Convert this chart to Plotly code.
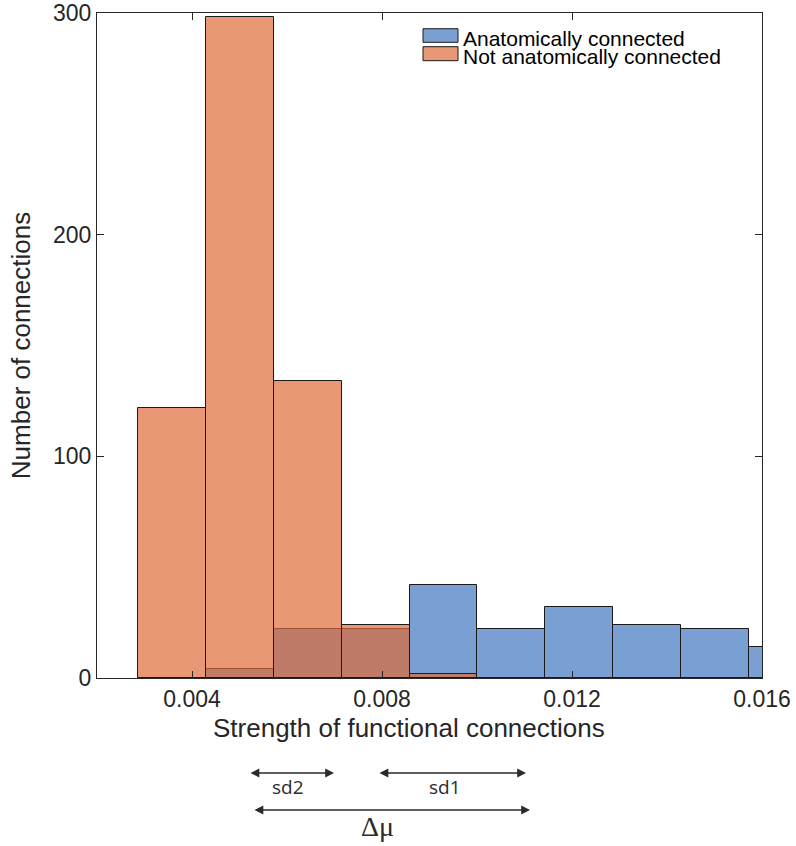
import numpy as np
import plotly.graph_objects as go

# ---- data ----
bin_edges = [0.00286, 0.00429, 0.00572, 0.00715, 0.00858, 0.01001,
             0.01144, 0.01287, 0.01430, 0.01573, 0.01716]
anat_counts = [0, 4, 22, 22, 42, 22, 32, 24, 22, 14]          # Anatomically connected
not_anat_counts = [122, 298, 134, 24, 2, 0, 0, 0, 0, 0]         # Not anatomically connected
series_names = ["Anatomically connected", "Not anatomically connected"]
x_ticks = [0.004, 0.008, 0.012, 0.016]
x_tick_labels = ["0.004", "0.008", "0.012", "0.016"]
y_ticks = [0, 100, 200, 300]
y_tick_labels = ["0", "100", "200", "300"]
x_title = "Strength of functional connections"
y_title = "Number of connections"

# ---- styles ----
fill_colors = ["rgba(65,118,192,0.7)", "rgba(222,108,58,0.7)"]
edge_color = "#1a1a1a"
axis_color = "#262626"
font_family = "Liberation Sans, Arial, Helvetica, sans-serif"

edges = np.array(bin_edges)
centers = (edges[:-1] + edges[1:]) / 2
widths = np.diff(edges)

fig = go.Figure()
for name, counts, col in zip(series_names, [anat_counts, not_anat_counts], fill_colors):
    fig.add_trace(go.Bar(
        x=centers, y=counts, width=widths, name=name,
        marker=dict(color=col, line=dict(color=edge_color, width=1)),
        showlegend=False,
    ))

W, H = 796, 846
ml, mr, mt, mb = 97, 34, 13, 168
pw, ph = W - ml - mr, H - mt - mb


def px(xp):
    return (xp - ml) / pw


def py(yp):
    return (H - mb - yp) / ph


shapes = []
annotations = []

# custom compact legend
leg_rows = [(28.7, 42.3, 38.5), (46.7, 60.7, 56.5)]
for (top, bot, tc), name, col in zip(leg_rows, series_names, fill_colors):
    shapes.append(dict(type="rect", xref="paper", yref="paper",
                       x0=px(423), x1=px(458), y0=py(bot), y1=py(top),
                       fillcolor=col, line=dict(color=edge_color, width=1)))
    annotations.append(dict(xref="paper", yref="paper", x=px(462), y=py(tc),
                            xanchor="left", yanchor="middle", showarrow=False,
                            borderpad=0,
                            text=name, font=dict(family=font_family, size=21, color="#000000")))

# x-axis title (slightly left of the axis centre, as in the reference)
annotations.append(dict(xref="paper", yref="paper", x=px(409), y=py(728),
                        xanchor="center", yanchor="middle", showarrow=False,
                        text=x_title, font=dict(family=font_family, size=26, color=axis_color)))

# sd / delta-mu double arrows below the axis
arrow_specs = [(249, 334, 773), (378, 526, 773), (253, 530, 810)]
for x0, x1, yy in arrow_specs:
    annotations.append(dict(xref="paper", yref="paper", x=px(x1), y=py(yy),
                            ax=x0 - x1, ay=0, text="", showarrow=True,
                            arrowhead=2, startarrowhead=2, arrowside="end+start",
                            arrowsize=1.1, startarrowsize=1.1, arrowwidth=1.6,
                            arrowcolor="#2b2b2b", standoff=0, startstandoff=0,
                            font=dict(size=1)))
label_specs = [("sd2", 288, 787, "Open Sans, DejaVu Sans, sans-serif", 19),
               ("sd1", 445, 787, "Open Sans, DejaVu Sans, sans-serif", 19),
               ("\u0394\u03bc", 377, 826, "Liberation Serif, Times New Roman, serif", 28)]
for txt, xx, yy, fam, sz in label_specs:
    annotations.append(dict(xref="paper", yref="paper", x=px(xx), y=py(yy),
                            xanchor="center", yanchor="middle", showarrow=False,
                            text=txt, font=dict(family=fam, size=sz, color="#2b2b2b")))

axis_common = dict(showline=True, linecolor=axis_color, linewidth=1.3, mirror="ticks",
                   ticks="inside", ticklen=7, tickwidth=1.3, tickcolor=axis_color,
                   showgrid=False, zeroline=False, automargin=False,
                   tickfont=dict(family=font_family, size=23, color=axis_color))

fig.update_layout(
    width=W, height=H,
    margin=dict(l=ml, r=mr, t=mt, b=mb, autoexpand=False),
    paper_bgcolor="white", plot_bgcolor="white",
    barmode="overlay", bargap=0,
    xaxis=dict(range=[0.002, 0.016], tickvals=x_ticks, ticktext=x_tick_labels,
               **axis_common),
    yaxis=dict(range=[0, 300], tickvals=y_ticks, ticktext=y_tick_labels,
               title=dict(text=y_title, standoff=14,
                          font=dict(family=font_family, size=26, color=axis_color)),
               **axis_common),
    shapes=shapes, annotations=annotations,
    showlegend=False,
)

fig.write_html("out.html")
